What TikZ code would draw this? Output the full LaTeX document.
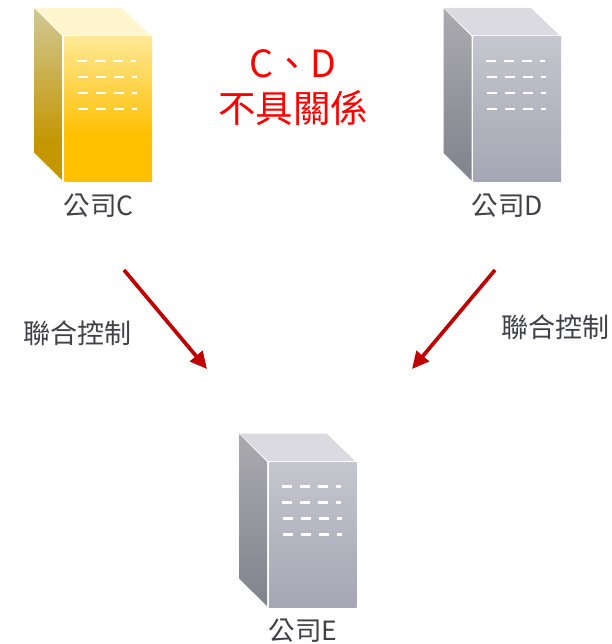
\documentclass[tikz,border=0pt]{standalone}
\usepackage{fontspec}
\setmainfont{Noto Sans CJK TC}
\usetikzlibrary{arrows.meta}
\definecolor{labelgray}{HTML}{404048}
\definecolor{arrowred}{HTML}{C00000}
\definecolor{goldtop}{HTML}{FFF5CF}
\definecolor{graytop}{HTML}{DADAE0}
\definecolor{goldlow}{HTML}{FFC000}
\definecolor{goldhigh}{HTML}{FFE896}
\definecolor{goldsidelow}{HTML}{C49600}
\definecolor{goldsidehigh}{HTML}{D0C896}
\definecolor{graylow}{HTML}{A5A5B5}
\definecolor{grayhigh}{HTML}{C6C6CE}
\definecolor{graysidelow}{HTML}{82828E}
\definecolor{graysidehigh}{HTML}{AAAAAE}
\pgfdeclareverticalshading{goldfront}{100bp}{color(0bp)=(goldlow); color(41bp)=(goldlow); color(75bp)=(goldhigh); color(100bp)=(goldhigh)}
\pgfdeclareverticalshading{goldside}{100bp}{color(0bp)=(goldsidelow); color(36bp)=(goldsidelow); color(75bp)=(goldsidehigh); color(100bp)=(goldsidehigh)}
\pgfdeclareverticalshading{grayfront}{100bp}{color(0bp)=(graylow); color(25bp)=(graylow); color(75bp)=(grayhigh); color(100bp)=(grayhigh)}
\pgfdeclareverticalshading{grayside}{100bp}{color(0bp)=(graysidelow); color(25bp)=(graysidelow); color(75bp)=(graysidehigh); color(100bp)=(graysidehigh)}
\tikzset{
  servername/.style={text=labelgray, font=\fontsize{26.5}{32}\selectfont, inner sep=0pt},
  linktext/.style={text=labelgray, font=\fontsize{27}{32}\selectfont, inner sep=0pt},
  redtext/.style={text=red, font=\fontsize{37.5}{45}\selectfont, inner sep=0pt, align=center},
  linkarrow/.style={draw=arrowred, line width=3.7pt, -{Triangle[length=17pt,width=16pt]}},
  slot/.style={draw=white, line width=2.5pt}
}

\begin{document}
\begin{tikzpicture}[x=1pt,y=-1pt]
  \useasboundingbox (0,0) rectangle (611,644);
  \foreach \n/\dx/\dy/\f/\s/\t in {C/0/0/goldfront/goldside/goldtop, D/409/0/grayfront/grayside/graytop, E/204.5/425.5/grayfront/grayside/graytop}{
    \begin{scope}[shift={(\dx,\dy)}]
      \fill[\t] (35,8) -- (122,8) -- (150.5,35.5) -- (63.5,35.5) -- cycle;
      \shade[shading=\s] (34.5,8.5) -- (62.5,36.5) -- (62.5,180.5) -- (34.5,153) -- cycle;
      \shade[shading=\f] (64.5,37) rectangle (152,182);
      \foreach \y/\a in {61/77,77/77.5,93/78,109/78}{
        \foreach \b/\w in {0/10,18/10,36/10,54/5}{
          \draw[slot] (\a+\b,\y) -- ++(\w,0);
        }
      }
      \node[servername] (name\n) at (98.5,205.5) {公司\n};
    \end{scope}
  }
  \node[redtext] (relation) at (293,88) {C、D\\不具關係};
  \node[linktext] (linkleft) at (77,333) {聯合控制};
  \node[linktext] (linkright) at (555,327) {聯合控制};
  \coordinate (startC) at (124,270);
  \coordinate (endC) at (207,369);
  \coordinate (startD) at (495,270);
  \coordinate (endD) at (412,369);
  \draw[linkarrow] (startC) -- (endC);
  \draw[linkarrow] (startD) -- (endD);
\end{tikzpicture}
\end{document}
